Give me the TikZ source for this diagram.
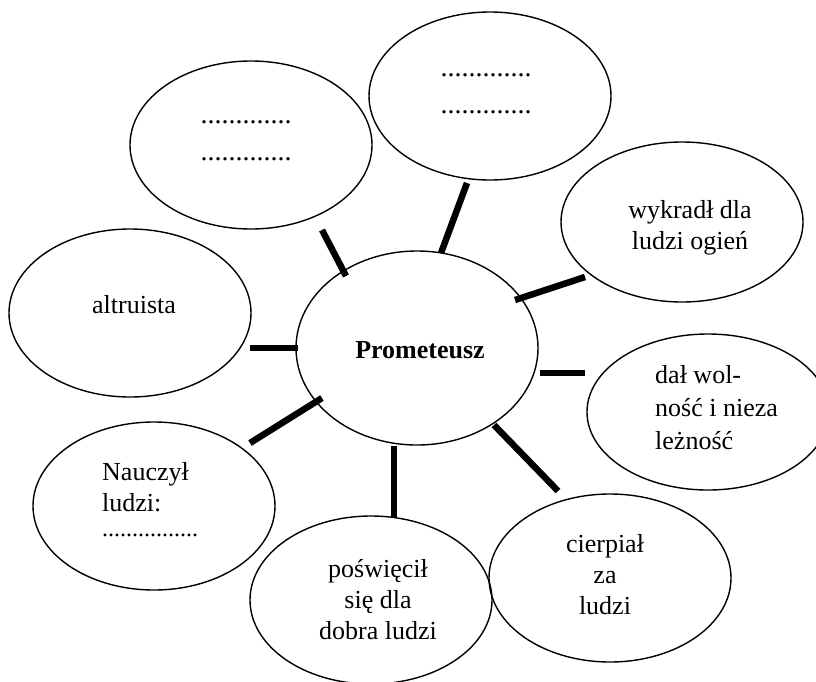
\documentclass[tikz,border=0pt]{standalone}
\usepackage{fontspec}
\setmainfont{Liberation Serif}
\usetikzlibrary{shapes.geometric}
\begin{document}
\begin{tikzpicture}[x=1pt,y=-1pt,
  bubble/.style={draw, ellipse, line width=1.4pt, minimum width=242pt, minimum height=168pt, inner sep=0pt},
  bar/.style={line width=6.5pt},
  txt/.style={font=\fontsize{26}{31}\selectfont, align=center, inner sep=0pt},
  dots/.style={font=\fontsize{28}{37}\selectfont, align=center, inner sep=0pt}]
\useasboundingbox (0,0) rectangle (816,681);
\clip (0,0) rectangle (816,681);
% bubbles
\node[bubble] (tl) at (251,145) {};
\node[bubble] (tc) at (490,96) {};
\node[bubble, minimum height=160pt] (wy) at (682,222) {};
\node[bubble, minimum height=194pt] (pr) at (417,348) {};
\node[bubble] (al) at (130,313) {};
\node[bubble, minimum height=156pt] (da) at (708,412) {};
\node[bubble] (na) at (154,506) {};
\node[bubble] (po) at (371,600) {};
\node[bubble] (ci) at (610,578) {};
% texts
\node[dots] (tlt) at (246,141) {.............\\.............};
\node[dots] (tct) at (486,94) {.............\\.............};
\node[txt] (wyt) at (690,228) {wykradł dla\\ludzi ogień};
\node[txt, font=\fontsize{26}{31}\selectfont\bfseries] (prt) at (420,350) {Prometeusz};
\node[txt] (alt) at (134,305) {altruista};
\node[txt, align=left, anchor=west, font=\fontsize{26}{33}\selectfont] (dat) at (655,408) {dał wol-\\ność i nieza\\leżność};
\node[txt, align=left, anchor=west] (nat) at (102,487) {Nauczył\\ludzi:};
\node[txt, anchor=west, font=\fontsize{24}{28}\selectfont] (nad) at (102,535) {................};
\node[txt] (pot) at (378,600) {poświęcił\\się dla\\dobra ludzi};
\node[txt] (cit) at (605,575) {cierpiał\\za\\ludzi};
% connector ends
\coordinate (c1a) at (322,230); \coordinate (c1b) at (346,276);
\coordinate (c2a) at (467,183); \coordinate (c2b) at (441,253);
\coordinate (c3a) at (585,277); \coordinate (c3b) at (515,300);
\coordinate (c4a) at (540,373); \coordinate (c4b) at (585,373);
\coordinate (c5a) at (494,425); \coordinate (c5b) at (558,491);
\coordinate (c6a) at (394,446); \coordinate (c6b) at (394,517);
\coordinate (c7a) at (250,443); \coordinate (c7b) at (322,398);
\coordinate (c8a) at (250,348); \coordinate (c8b) at (298,348);
\draw[bar] (c1a) -- (c1b);
\draw[bar] (c2a) -- (c2b);
\draw[bar] (c3a) -- (c3b);
\draw[bar] (c4a) -- (c4b);
\draw[bar] (c5a) -- (c5b);
\draw[bar] (c6a) -- (c6b);
\draw[bar] (c7a) -- (c7b);
\draw[bar] (c8a) -- (c8b);
\end{tikzpicture}
\end{document}
